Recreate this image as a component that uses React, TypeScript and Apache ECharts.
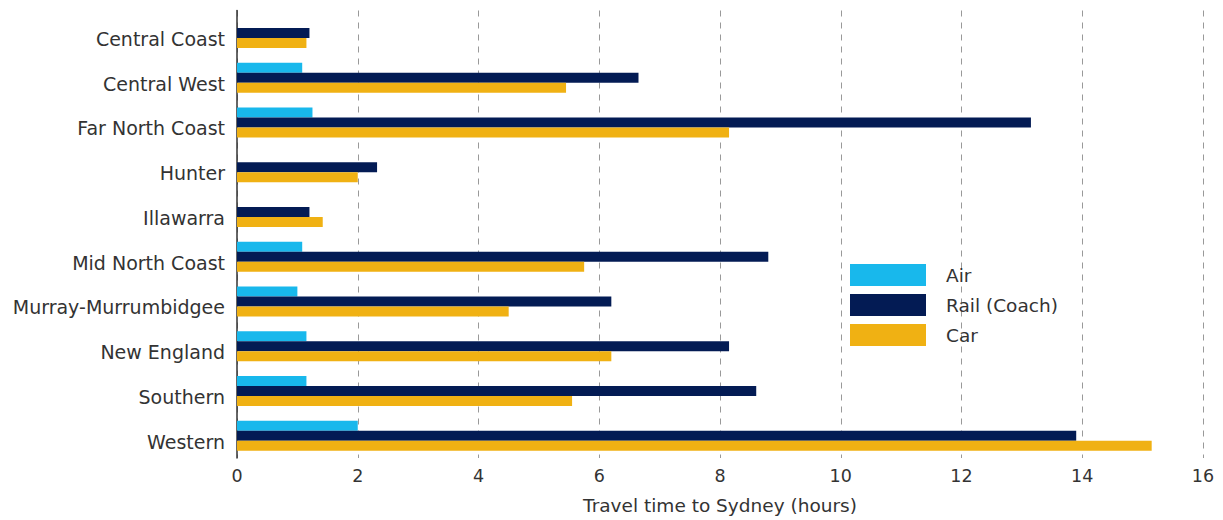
import React, { useEffect, useRef } from "react";
import * as echarts from "echarts";

const categories = [
  "Central Coast",
  "Central West",
  "Far North Coast",
  "Hunter",
  "Illawarra",
  "Mid North Coast",
  "Murray-Murrumbidgee",
  "New England",
  "Southern",
  "Western",
];
const airValues = [null, 1.08, 1.25, null, null, 1.08, 1.0, 1.15, 1.15, 2.0];
const railValues = [1.2, 6.65, 13.15, 2.32, 1.2, 8.8, 6.2, 8.15, 8.6, 13.9];
const carValues = [1.15, 5.45, 8.15, 2.0, 1.42, 5.75, 4.5, 6.2, 5.55, 15.15];
const xTicks = { min: 0, max: 16, interval: 2 };
const xAxisTitle = "Travel time to Sydney (hours)";

const FONT = "'DejaVu Sans', sans-serif";

export default function App() {
  const ref = useRef<HTMLDivElement>(null);
  useEffect(() => {
    if (!ref.current) return;
    const chart = echarts.init(ref.current, undefined, { renderer: "svg" });
    const mk = (name: string, data: (number | null)[], color: string) => ({
      name,
      type: "bar",
      data,
      barWidth: 10,
      barGap: "0%",
      itemStyle: { color },
      emphasis: { disabled: true },
    });
    chart.setOption({
      animation: false,
      textStyle: { fontFamily: FONT },
      grid: { left: 237, right: 20, top: 10.5, bottom: 57.5, containLabel: false },
      legend: {
        orient: "vertical",
        left: 845,
        top: 259,
        itemWidth: 76,
        itemHeight: 22,
        itemGap: 8,
        icon: "rect",
        textStyle: { fontSize: 18.5, color: "#333", fontFamily: FONT, padding: [0, 0, 0, 15] },
        data: ["Air", "Rail (Coach)", "Car"],
      },
      xAxis: {
        type: "value",
        min: xTicks.min,
        max: xTicks.max,
        interval: xTicks.interval,
        name: xAxisTitle,
        nameLocation: "middle",
        nameGap: 38,
        nameTextStyle: { fontSize: 18.5, color: "#333", fontFamily: FONT },
        axisLine: { show: false },
        axisTick: { show: false },
        axisLabel: { fontSize: 17.5, color: "#333", margin: 9, fontFamily: FONT },
        splitLine: {
          show: true,
          lineStyle: { color: "#999", type: [6, 6], width: 1 },
        },
      },
      yAxis: {
        type: "category",
        data: categories,
        inverse: true,
        axisLine: { show: true, lineStyle: { color: "#333", width: 1.5 } },
        axisTick: { show: false },
        axisLabel: {
          fontSize: 19,
          color: "#333",
          margin: 12,
          fontFamily: FONT,
          verticalAlign: "top",
          lineHeight: 12,
        },
      },
      series: [
        mk("Air", airValues, "#18b8ec"),
        mk("Rail (Coach)", railValues, "#031b54"),
        mk("Car", carValues, "#f0b113"),
      ],
    });
    return () => chart.dispose();
  }, []);
  return (
    <div
      ref={ref}
      style={{ position: "absolute", left: 0, top: 0, width: 1223, height: 520 }}
    />
  );
}
